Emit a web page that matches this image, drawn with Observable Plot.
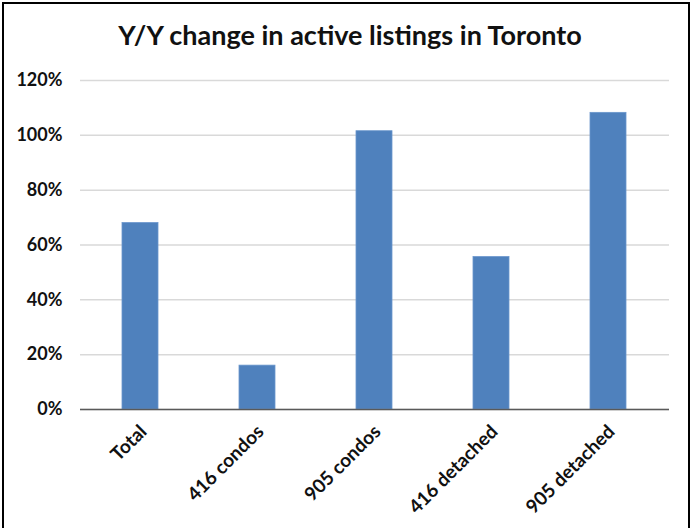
<!DOCTYPE html>
<html>
<head>
<meta charset="utf-8">
<script src="https://cdn.jsdelivr.net/npm/d3@7"></script>
<script src="https://cdn.jsdelivr.net/npm/@observablehq/plot@0.6"></script>
<style>
  html, body { margin: 0; padding: 0; background: #fff; }
  #wrap { position: relative; width: 700px; height: 528px; overflow: hidden; font-family: Lato, "Open Sans", sans-serif; }
  #frame { position: absolute; left: 2px; top: 2px; width: 688px; height: 560px; border: 2px solid #000; border-bottom: none; box-sizing: border-box; pointer-events: none; }
  #title { position: absolute; left: 0; width: 700px; top: 18px; text-align: center; font-size: 27px; font-weight: 700; color: #111; font-family: Lato, sans-serif; }
  #chart { position: absolute; left: 0; top: 0; }
</style>
</head>
<body>
<div id="wrap">
  <div id="chart"></div>
  <div id="title">Y/Y change in active listings in Toronto</div>
  <div id="frame"></div>
</div>
<script>
const categories = ["Total", "416 condos", "905 condos", "416 detached", "905 detached"];
const values = [0.68, 0.16, 1.015, 0.556, 1.082];
const yTicks = [0, 0.2, 0.4, 0.6, 0.8, 1.0, 1.2];

const data = categories.map((c, i) => ({category: c, value: values[i]}));

const chart = Plot.plot({
  width: 700,
  height: 528,
  marginLeft: 80,
  marginRight: 31,
  marginTop: 80,
  marginBottom: 119,
  style: {fontFamily: "Lato, sans-serif", fontSize: "16px", fontWeight: "700", color: "#111", background: "transparent"},
  x: {domain: categories, paddingInner: 0.69, paddingOuter: 0.345, label: null},
  y: {domain: [0, 1.2], label: null},
  marks: [
    Plot.gridY(yTicks, {stroke: "#d9d9d9", strokeOpacity: 1, strokeWidth: 1.5}),
    Plot.axisY(yTicks, {tickSize: 0, tickPadding: 18, tickFormat: d => Math.round(d * 100) + "%", fontSize: 18, fontWeight: 700, label: null}),
    Plot.barY(data, {x: "category", y: "value", fill: "#4f81bd", stroke: "#6a96cc", strokeWidth: 0.8}),
    Plot.ruleY([0], {stroke: "#595959", strokeWidth: 1.5}),
    Plot.axisX({tickSize: 0, tickPadding: 19, tickRotate: -45, dx: 3, fontSize: 19, fontWeight: 700, label: null})
  ]
});
document.getElementById("chart").appendChild(chart);
</script>
</body>
</html>
